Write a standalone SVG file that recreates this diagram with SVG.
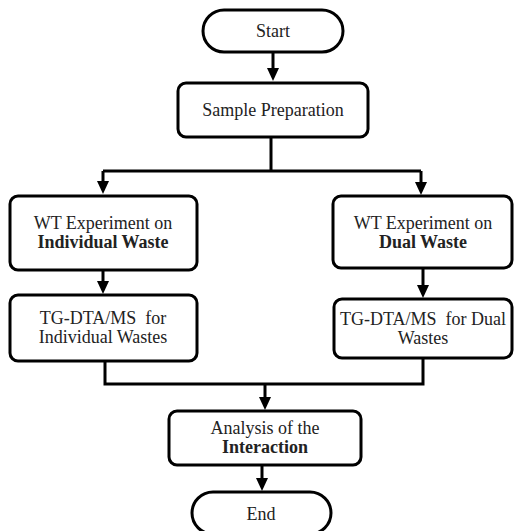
<svg xmlns="http://www.w3.org/2000/svg" width="515" height="531" viewBox="0 0 515 531">
<defs>
<marker id="arr" markerUnits="userSpaceOnUse" markerWidth="14" markerHeight="12" viewBox="0 0 14 12" refX="2" refY="6" orient="auto">
<path d="M0,0 L13,6 L0,12 z" fill="#000"/>
</marker>
<style>
.box{fill:#fff;stroke:#000;stroke-width:3}
.c{fill:none;stroke:#000;stroke-width:3}
</style>
</defs>
<rect width="515" height="531" fill="#fff"/>
<g id="connectors">
<path class="c" d="M273,52 V70" marker-end="url(#arr)"/>
<path class="c" d="M271,137 V171"/>
<path class="c" d="M103,171 H421"/>
<path class="c" d="M103,171 V183" marker-end="url(#arr)"/>
<path class="c" d="M421,171 V184" marker-end="url(#arr)"/>
<path class="c" d="M103,270 V283" marker-end="url(#arr)"/>
<path class="c" d="M423,268 V287" marker-end="url(#arr)"/>
<path class="c" d="M105,361 V384 H423 V358"/>
<path class="c" d="M265,384 V399" marker-end="url(#arr)"/>
<path class="c" d="M262,465 V480" marker-end="url(#arr)"/>
</g>
<g font-family="Liberation Serif" font-size="18" fill="#222" text-anchor="middle">
<g id="start">
<rect class="box" x="203" y="10" width="140" height="42" rx="21"/>
<text x="273" y="37">Start</text>
</g>
<g id="sample">
<rect class="box" x="178" y="83" width="190" height="54" rx="8"/>
<text x="273" y="116">Sample Preparation</text>
</g>
<g id="wt-individual">
<rect class="box" x="10" y="196" width="187" height="74" rx="8"/>
<text x="103" y="229">WT Experiment on</text>
<text x="103" y="248" font-weight="bold">Individual Waste</text>
</g>
<g id="tg-individual">
<rect class="box" x="10" y="295" width="187" height="66" rx="8"/>
<text x="103" y="324" xml:space="preserve">TG-DTA/MS  for</text>
<text x="103" y="343">Individual Wastes</text>
</g>
<g id="wt-dual">
<rect class="box" x="333" y="196" width="179" height="72" rx="8"/>
<text x="423" y="229">WT Experiment on</text>
<text x="423" y="248" font-weight="bold">Dual Waste</text>
</g>
<g id="tg-dual">
<rect class="box" x="334" y="299" width="178" height="59" rx="8"/>
<text x="423" y="325" xml:space="preserve">TG-DTA/MS  for Dual</text>
<text x="423" y="344">Wastes</text>
</g>
<g id="analysis">
<rect class="box" x="169" y="411" width="192" height="54" rx="8"/>
<text x="265" y="434">Analysis of the</text>
<text x="265" y="453" font-weight="bold">Interaction</text>
</g>
<g id="end">
<rect class="box" x="192" y="492" width="139" height="42" rx="21"/>
<text x="261" y="520">End</text>
</g>
</g>
</svg>
